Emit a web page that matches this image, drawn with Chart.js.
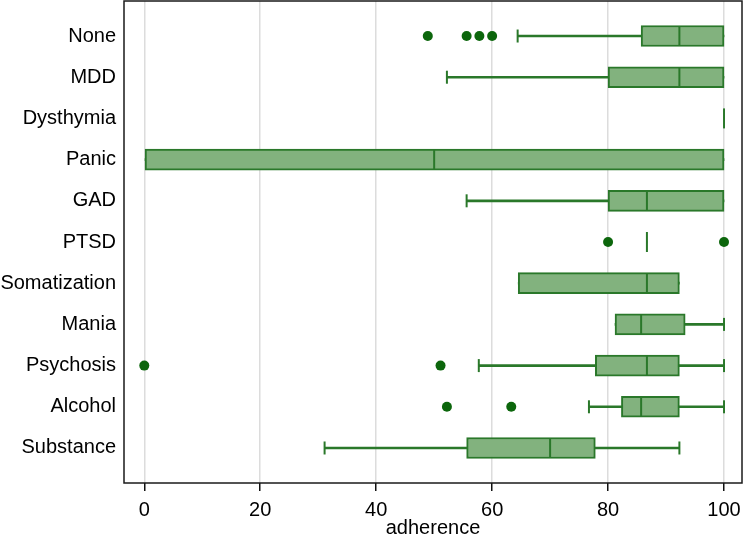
<!DOCTYPE html>
<html>
<head>
<meta charset="utf-8">
<script src="https://cdn.jsdelivr.net/npm/chart.js@4.4.1/dist/chart.umd.min.js"></script>
<style>
  html, body { margin: 0; padding: 0; background: #fff; }
</style>
</head>
<body>
<canvas id="chart" width="744" height="534"></canvas>
<script>
// categories, top to bottom
const categories = ['None', 'MDD', 'Dysthymia', 'Panic', 'GAD', 'PTSD', 'Somatization', 'Mania', 'Psychosis', 'Alcohol', 'Substance'];

// box plot summary per category (adherence %)
const whiskerLow  = [64.4, 52.2, 100, 0,   55.6, 86.7, 64.5, 81.2, 57.7, 76.7, 31.1];
const q1          = [85.7, 80.0, 100, 0,   80.0, 86.7, 64.5, 81.2, 77.8, 82.3, 55.6];
const medians     = [92.3, 92.3, 100, 50,  86.7, 86.7, 86.7, 85.7, 86.7, 85.7, 70.0];
const q3          = [100,  100,  100, 100, 100,  86.7, 92.3, 93.3, 92.3, 92.3, 77.8];
const whiskerHigh = [100,  100,  100, 100, 100,  86.7, 92.3, 100,  100,  100,  92.3];

// outside values: row index and value
const outlierRows   = [0, 0, 0, 0, 5, 5, 8, 8, 9, 9];
const outlierValues = [48.9, 55.6, 57.8, 60.0, 80, 100, 0, 51.1, 52.2, 63.3];

const xTicks = [0, 20, 40, 60, 80, 100];

const LINE = '#2a782a';
const FILL = '#82b27e';
const DOT  = '#0c660c';
const FONT = { family: '"Liberation Sans", Arial, Helvetica, sans-serif', size: 20 };

const caps = [];
categories.forEach((c, i) => {
  if (whiskerLow[i] < q1[i]) caps.push({ x: whiskerLow[i], y: i });
  if (whiskerHigh[i] > q3[i]) caps.push({ x: whiskerHigh[i], y: i });
});

// plot region outline
const frame = {
  id: 'frame',
  afterDraw(chart) {
    const { ctx, chartArea: a } = chart;
    ctx.save();
    ctx.strokeStyle = '#1a1a1a';
    ctx.lineWidth = 1.5;
    ctx.strokeRect(a.left, a.top, a.right - a.left, a.bottom - a.top);
    ctx.restore();
  }
};

new Chart(document.getElementById('chart'), {
  type: 'bar',
  data: {
    datasets: [
      {
        label: 'outliers',
        type: 'scatter',
        data: outlierValues.map((v, k) => ({ x: v, y: outlierRows[k] })),
        pointStyle: 'circle',
        pointRadius: 5,
        pointBackgroundColor: DOT,
        pointBorderColor: DOT,
        pointBorderWidth: 0,
        order: 0
      },
      {
        label: 'median',
        type: 'scatter',
        data: medians.map((v, i) => ({ x: v, y: i })),
        pointStyle: 'line',
        pointRotation: 90,
        pointRadius: 10,
        pointBorderColor: LINE,
        pointBorderWidth: 2,
        order: 1
      },
      {
        label: 'caps',
        type: 'scatter',
        data: caps,
        pointStyle: 'line',
        pointRotation: 90,
        pointRadius: 6.5,
        pointBorderColor: LINE,
        pointBorderWidth: 2,
        order: 1
      },
      {
        label: 'box',
        data: categories.map((c, i) => ({ x: [q1[i], q3[i]], y: i })),
        backgroundColor: FILL,
        borderColor: LINE,
        borderWidth: 2,
        borderSkipped: false,
        barThickness: 21,
        grouped: false,
        order: 2
      },
      {
        label: 'whisker',
        data: categories.map((c, i) => ({ x: [whiskerLow[i], whiskerHigh[i]], y: i })),
        backgroundColor: LINE,
        borderWidth: 0,
        barThickness: 2,
        grouped: false,
        order: 3
      }
    ]
  },
  options: {
    indexAxis: 'y',
    responsive: false,
    animation: false,
    devicePixelRatio: 1,
    layout: { autoPadding: false, padding: { left: 0, right: 2, top: 1, bottom: 0 } },
    plugins: { legend: { display: false }, tooltip: { enabled: false } },
    scales: {
      x: {
        type: 'linear',
        position: 'bottom',
        min: -3.5,
        max: 103.1,
        afterBuildTicks: s => { s.ticks = xTicks.map(v => ({ value: v })); },
        afterFit: s => { s.height = 51; s.paddingLeft = 0; s.paddingRight = 0; },
        grid: { color: '#dcdcdc', lineWidth: 1.5, tickColor: '#111', tickLength: 8, tickWidth: 1.5 },
        border: { display: false },
        ticks: { color: '#000', font: FONT, padding: 7, maxRotation: 0 },
        title: { display: true, text: 'adherence', color: '#000', font: FONT, padding: { top: 0, bottom: -6 } }
      },
      y: {
        type: 'linear',
        offset: false,
        min: -0.85,
        max: 10.85,
        reverse: true,
        afterBuildTicks: s => { s.ticks = categories.map((c, i) => ({ value: i })); },
        afterFit: s => { s.width = 124; s.paddingTop = 0; s.paddingBottom = 0; },
        grid: { display: false, drawTicks: false, offset: false },
        border: { display: false },
        ticks: { color: '#000', font: FONT, padding: 8, callback: v => categories[v] }
      }
    }
  },
  plugins: [frame]
});
</script>
</body>
</html>
